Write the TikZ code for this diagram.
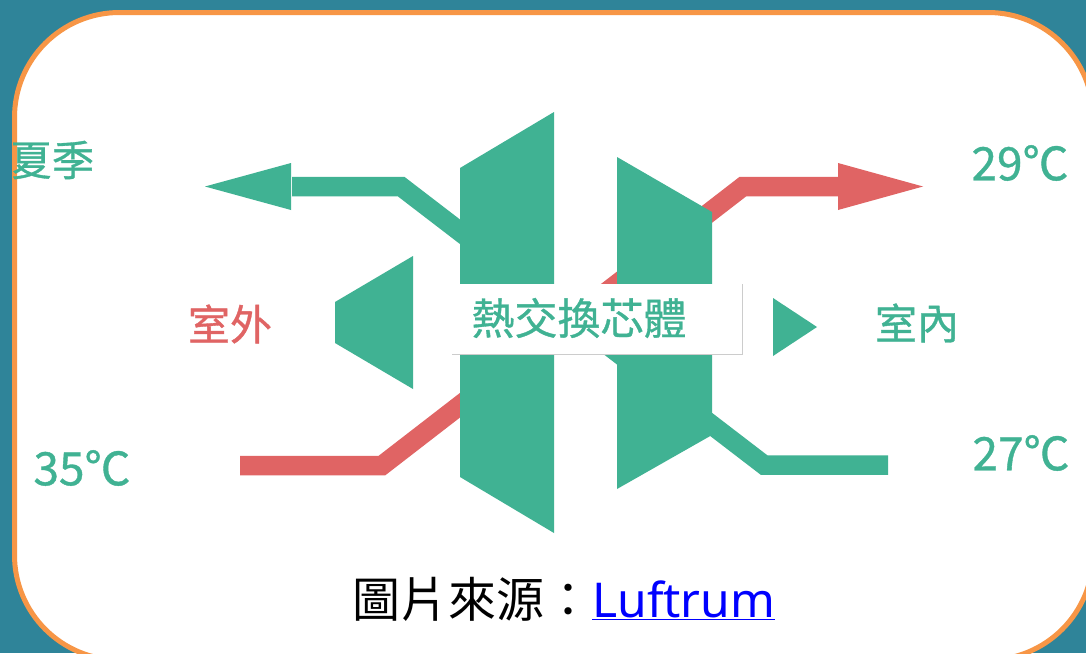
\documentclass[tikz,border=0pt]{standalone}
\usepackage{fontspec}
\setmainfont{Noto Sans CJK TC}
\newfontfamily\boldishcjk[FakeBold=0.8]{Noto Sans CJK TC}
\newfontfamily\latinf{Noto Sans}
\definecolor{bgteal}{RGB}{47,132,153}
\definecolor{frameorange}{RGB}{247,150,70}
\definecolor{hxgreen}{RGB}{64,178,147}
\definecolor{hxred}{RGB}{224,100,100}
\definecolor{linkblue}{RGB}{0,0,255}
\tikzset{
  flowline/.style={line width=19.5, line cap=butt, line join=miter},
  greenflow/.style={flowline, draw=hxgreen},
  redflow/.style={flowline, draw=hxred},
  blockshape/.style={fill=hxgreen},
  lbl/.style={inner sep=0pt, font=\boldishcjk\fontsize{42}{46}\selectfont},
  templbl/.style={inner sep=0pt, text=hxgreen, font=\boldishcjk\fontsize{46}{50}\selectfont},
}
\begin{document}
\begin{tikzpicture}[x=1pt,y=-1pt]
\useasboundingbox (0,0) rectangle (1086,653);
\clip (0,0) rectangle (1086,653);
\fill[bgteal] (0,0) rectangle (1086,653);
\draw[frameorange, line width=5, fill=white, rounded corners=105] (14.5,12.5) rectangle (1093,660);

% green flow (indoor -> outdoor)
\coordinate (g1) at (888,465);
\coordinate (g2) at (764,465);
\coordinate (g3) at (401,186.5);
\coordinate (g4) at (292,186.5);
\draw[greenflow] (g1) -- (g2) -- (g3) -- (g4);
\fill[hxgreen] (291,163) -- (205,186.5) -- (291,210) -- cycle;

% red flow (outdoor -> indoor)
\coordinate (r1) at (240,465.5);
\coordinate (r2) at (382,465.5);
\coordinate (r3) at (743,186.5);
\coordinate (r4) at (839,186.5);
\draw[redflow] (r1) -- (r2) -- (r3) -- (r4);
\fill[hxred] (838,163) -- (923,186.5) -- (838,210) -- cycle;

% core blocks
\fill[blockshape] (460,168) -- (554,112) -- (554,533) -- (460,477) -- cycle;
\fill[blockshape] (617,157) -- (712,212) -- (712,435) -- (617,489) -- cycle;
\fill[blockshape] (335,302) -- (413,256) -- (413,389) -- (335,343) -- cycle;
\fill[blockshape] (773,298) -- (817,327) -- (773,356) -- cycle;

% label box
\fill[white] (452,284) rectangle (742,354);
\draw[black!20, line width=1] (742,284) -- (742,354) -- (452,354);
\node[lbl, text=hxgreen, font=\boldishcjk\fontsize{43}{47}\selectfont] (core) at (579,318) {熱交換芯體};

% labels
\node[lbl, text=hxgreen] (season) at (52,160) {夏季};
\node[lbl, text=hxred] (outside) at (230,324) {室外};
\node[lbl, text=hxgreen] (inside) at (917,323) {室內};
\node[templbl] (t29) at (1020,163) {29℃};
\node[templbl] (t27) at (1021,453) {27℃};
\node[templbl] (t35) at (82,468) {35℃};

% caption
\node[inner sep=0pt, anchor=base west, font=\fontsize{48}{52}\selectfont] (cap) at (352,617)
  {圖片來源：\textcolor{linkblue}{\latinf\underline{Luftrum}}};
\end{tikzpicture}
\end{document}
